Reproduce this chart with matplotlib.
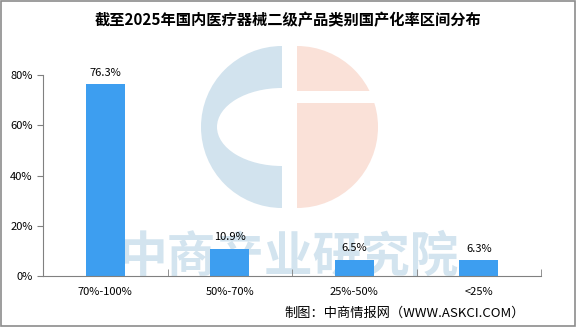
import matplotlib.pyplot as plt
from matplotlib.patches import Wedge, Ellipse, Rectangle

plt.rcParams['font.family'] = ['Noto Sans CJK SC', 'DejaVu Sans']

categories = ['70%-100%', '50%-70%', '25%-50%', '<25%']
values = [76.3, 10.9, 6.5, 6.3]
yticks = [0, 20, 40, 60, 80]

fig = plt.figure(figsize=(5.76, 3.27), dpi=100)

# background layer in pixel coords (logo, watermark, frame)
bg = fig.add_axes([0, 0, 1, 1], zorder=0)
bg.set_xlim(0, 576)
bg.set_ylim(327, 0)
bg.axis('off')
cx, cy, r = 289, 127, 81
bg.add_patch(Wedge((cx - 7, cy), r, 90, 270, color='#d2e3ee', lw=0))
bg.add_patch(Ellipse((cx - 7, cy), 2 * (cx - 7 - 217), 78, color='white', lw=0))
bg.add_patch(Wedge((cx + 8, cy), r, -90, 90, color='#fae1d8', lw=0))
bg.add_patch(Rectangle((cx + 8, 91), 90, 12, color='white', lw=0))
bg.text(289, 258, '中商产业研究院', ha='center', va='center',
        fontsize=35, fontweight='bold', color='#d3e4ef')
bg.add_patch(Rectangle((1, 1), 574, 325, fill=False, ec='#8c8c8c', lw=1.2))

ax = fig.add_axes([43 / 576, 1 - 276 / 327, 498 / 576, 201 / 327], zorder=1)
ax.patch.set_alpha(0)
x = range(len(categories))
bars = ax.bar(x, values, width=0.31, color='#3d9ef0', zorder=2)
for xi, v in zip(x, values):
    ax.text(xi, v + 2.5, f'{v}%', ha='center', va='bottom', fontsize=8)

ax.set_xlim(-0.5, len(categories) - 0.5)
ax.set_ylim(0, 80)
ax.set_yticks(yticks)
ax.set_yticklabels([f'{t}%' for t in yticks], fontsize=8)
ax.set_xticks(x)
ax.set_xticklabels(categories, fontsize=8)
ax.tick_params(axis='x', length=0, pad=8)
ax.set_xticks([0.5, 1.5, 2.5, 3.5], minor=True)
ax.tick_params(axis='x', which='minor', direction='in', length=5, color='#808080')
ax.tick_params(axis='y', direction='out', length=4, color='#808080')
for s in ['top', 'right']:
    ax.spines[s].set_visible(False)
ax.spines['left'].set_color('#808080')
ax.spines['bottom'].set_color('#808080')

fig.text(0.5, 1 - 20 / 327, '截至2025年国内医疗器械二级产品类别国产化率区间分布',
         ha='center', va='center', fontsize=11, fontweight='bold')
fig.text(525 / 576, 1 - 313 / 327, '制图：中商情报网（WWW.ASKCI.COM）',
         ha='right', va='center', fontsize=9.5)

fig.savefig('out.png', dpi=100)
